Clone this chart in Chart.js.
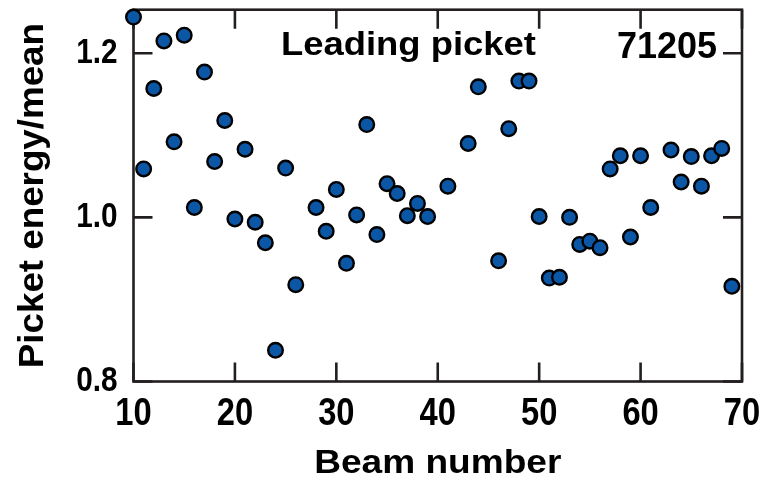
<!DOCTYPE html>
<html>
<head>
<meta charset="utf-8">
<script src="https://cdn.jsdelivr.net/npm/chart.js@4/dist/chart.umd.min.js"></script>
<style>
  html, body { margin: 0; padding: 0; background: #ffffff; }
  #wrap { width: 766px; height: 480px; }
</style>
</head>
<body>
<div id="wrap"><canvas id="c" width="766" height="480"></canvas></div>
<script>
// ---- data ----
const beams = [10,11,12,13,14,15,16,17,18,19,20,21,22,23,24,25,26,28,29,30,31,32,33,34,35,36,37,38,39,41,43,44,46,47,48,49,50,51,52,53,54,55,56,57,58,59,60,61,63,64,65,66,67,68,69];
const energyRatio = [1.244,1.059,1.157,1.215,1.092,1.222,1.012,1.177,1.068,1.118,0.998,1.083,0.994,0.969,0.838,1.060,0.918,1.012,0.983,1.034,0.944,1.003,1.113,0.979,1.041,1.029,1.002,1.017,1.001,1.038,1.090,1.159,0.947,1.108,1.166,1.166,1.001,0.926,0.927,1.000,0.967,0.971,0.963,1.059,1.075,0.976,1.075,1.012,1.082,1.043,1.074,1.038,1.075,1.084,0.916];
const xTicks = [10,20,30,40,50,60,70];
const yTicks = [0.8,1.0,1.2];
const xLabel = 'Beam number';
const yLabel = 'Picket energy/mean';
const panelTitle = 'Leading picket';
const shotNumber = '71205';

const FRAME = '#231f20';
const POINT = '#0b57a6';
const mainFont = '"Liberation Sans", Arial, Helvetica, sans-serif';

// draw text horizontally stretched/condensed (still real canvas text)
function withStretch(ctx, factor, fn) {
  const orig = ctx.fillText;
  ctx.fillText = function(t, x, y) {
    this.save();
    this.translate(x, y);
    this.scale(factor, 1);
    orig.call(this, t, 0, 0);
    this.restore();
  };
  try { fn(); } finally { ctx.fillText = orig; }
}

const framePlugin = {
  id: 'frame',
  beforeDraw(chart) {
    const cfg = { x: { title: 1.09, labels: 0.86 }, y: { title: 1.05, labels: 0.85 } };
    ['x','y'].forEach(id => {
      const s = chart.scales[id];
      if (s && !s._stretchWrapped) {
        const oT = s.drawTitle, oL = s.drawLabels;
        s.drawTitle = function() { const a = arguments; withStretch(this.ctx, cfg[id].title, () => oT.apply(this, a)); };
        s.drawLabels = function() { const a = arguments; withStretch(this.ctx, cfg[id].labels, () => oL.apply(this, a)); };
        s._stretchWrapped = true;
      }
    });
  },
  beforeDatasetsDraw(chart) {
    const {ctx, chartArea: a, scales: {x, y}} = chart;
    const tl = 19;
    ctx.save();
    ctx.strokeStyle = FRAME;
    ctx.lineWidth = 2.6;
    ctx.lineCap = 'butt';
    ctx.strokeRect(a.left, a.top, a.right - a.left, a.bottom - a.top);
    ctx.beginPath();
    xTicks.forEach(v => {
      const px = x.getPixelForValue(v);
      ctx.moveTo(px, a.bottom); ctx.lineTo(px, a.bottom - tl);
      ctx.moveTo(px, a.top); ctx.lineTo(px, a.top + tl);
    });
    yTicks.forEach(v => {
      const py = y.getPixelForValue(v);
      ctx.moveTo(a.left, py); ctx.lineTo(a.left + tl, py);
      ctx.moveTo(a.right, py); ctx.lineTo(a.right - tl, py);
    });
    ctx.stroke();
    ctx.restore();
  },
  afterDraw(chart) {
    const {ctx} = chart;
    ctx.save();
    ctx.fillStyle = '#000';
    ctx.textBaseline = 'alphabetic';
    ctx.textAlign = 'left';
    ctx.font = 'bold 32.5px ' + mainFont;
    withStretch(ctx, 1.12, () => ctx.fillText(panelTitle, 281, 55));
    ctx.font = 'bold 36px ' + mainFont;
    ctx.fillText(shotNumber, 617, 58);
    ctx.restore();
  }
};

function zeroPad(s) { s.paddingLeft = 0; s.paddingRight = 0; s.paddingTop = 0; s.paddingBottom = 0; }

new Chart(document.getElementById('c'), {
  type: 'scatter',
  data: {
    datasets: [{
      data: beams.map((b, i) => ({x: b, y: energyRatio[i]})),
      pointRadius: 7.3,
      pointHoverRadius: 7.3,
      pointBackgroundColor: POINT,
      pointBorderColor: '#000',
      pointBorderWidth: 2.4,
      showLine: false,
      clip: false
    }]
  },
  options: {
    responsive: false,
    devicePixelRatio: 1,
    animation: false,
    events: [],
    layout: { padding: { left: 0, right: 24, top: 6, bottom: 0 } },
    plugins: { legend: { display: false }, tooltip: { enabled: false } },
    scales: {
      x: {
        type: 'linear',
        min: 10, max: 70,
        afterFit(s) { s.height = 98.5; zeroPad(s); },
        afterBuildTicks(s) { s.ticks = xTicks.map(v => ({value: v})); },
        grid: { display: false, drawTicks: false },
        border: { display: false },
        ticks: {
          padding: 10,
          color: '#000',
          maxRotation: 0,
          autoSkip: false,
          font: { family: mainFont, size: 38, weight: 'bold', lineHeight: 1.2 },
          callback: v => String(v)
        },
        title: {
          display: true,
          text: xLabel,
          color: '#000',
          padding: { top: 0, bottom: 1 },
          font: { family: mainFont, size: 34, weight: 'bold', lineHeight: 0.9 }
        }
      },
      y: {
        type: 'linear',
        min: 0.8, max: 1.253,
        afterFit(s) { s.width = 133.5; zeroPad(s); },
        afterBuildTicks(s) { s.ticks = yTicks.map(v => ({value: v})); },
        grid: { display: false, drawTicks: false },
        border: { display: false },
        ticks: {
          padding: 16,
          color: '#000',
          autoSkip: false,
          font: { family: mainFont, size: 35, weight: 'bold', lineHeight: 1.2 },
          callback: v => Number(v).toFixed(1)
        },
        title: {
          display: true,
          text: yLabel,
          color: '#000',
          padding: { top: 12, bottom: 0 },
          font: { family: mainFont, size: 35, weight: 'bold', lineHeight: 1.2 }
        }
      }
    }
  },
  plugins: [framePlugin]
});
</script>
</body>
</html>
